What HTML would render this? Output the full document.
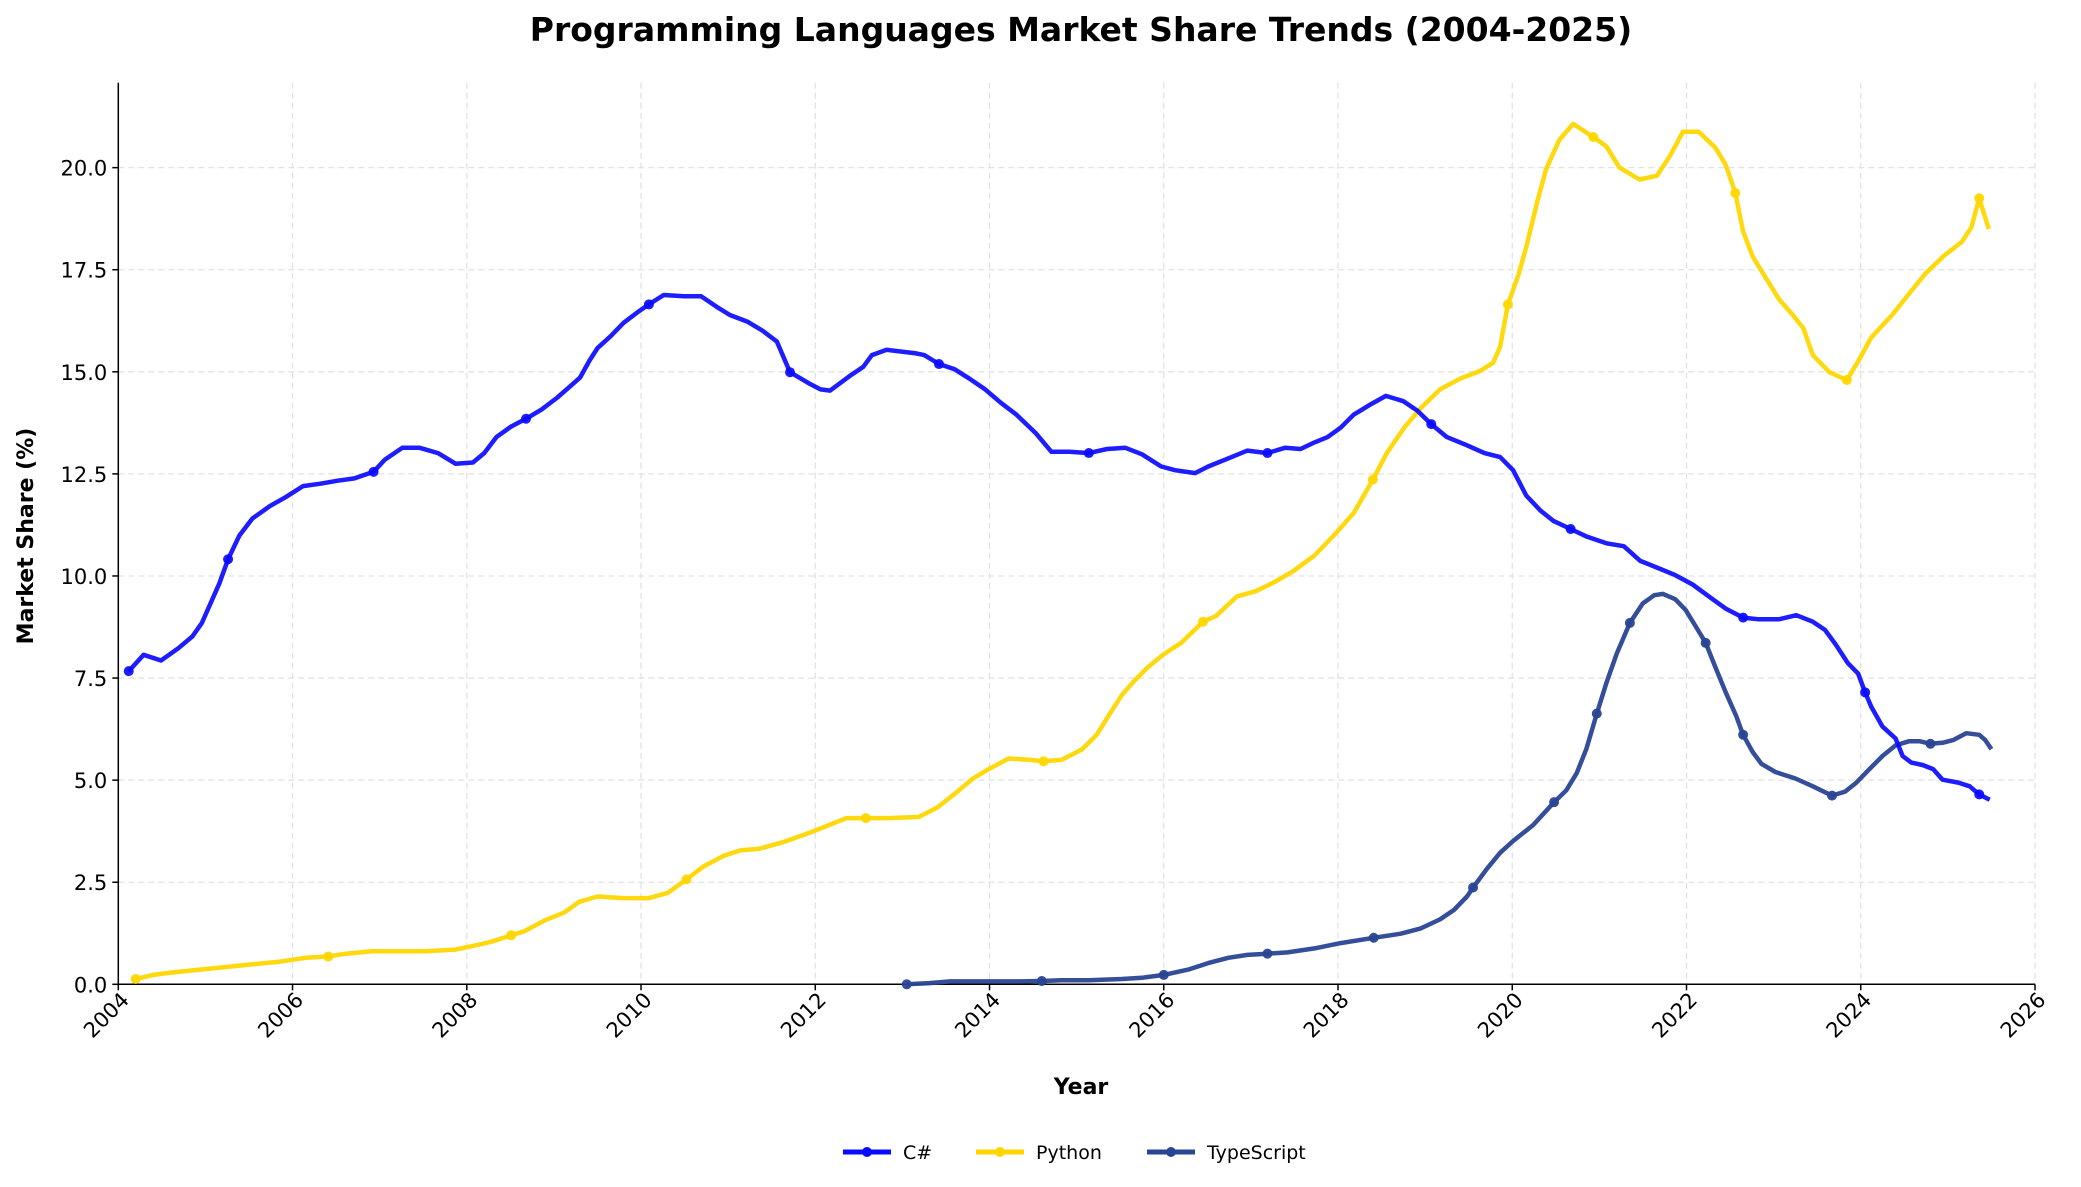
<!DOCTYPE html>
<html><head><meta charset="utf-8"><style>
html,body{margin:0;padding:0;background:#fff;}
svg text{font-family:"DejaVu Sans","Liberation Sans",sans-serif;}
</style></head><body>
<svg id="chart" width="2081" height="1182" viewBox="0 0 2081 1182" xmlns="http://www.w3.org/2000/svg">
<rect width="2081" height="1182" fill="#fff"/>
<text x="1081" y="41" text-anchor="middle" font-size="33" font-weight="bold">Programming Languages Market Share Trends (2004-2025)</text>
<g id="grid"></g><g id="axes"></g><g id="series"></g>
<text x="1081" y="1094" text-anchor="middle" font-size="22" font-weight="bold">Year</text>
<text transform="translate(33,536) rotate(-90)" text-anchor="middle" font-size="22" font-weight="bold">Market Share (%)</text>
<g id="legend"></g>
</svg>
<script>
const csYears=[2004.12,2004.29,2004.49,2004.69,2004.85,2004.96,2005.16,2005.26,2005.39,2005.54,2005.74,2005.92,2006.12,2006.32,2006.51,2006.71,2006.93,2007.06,2007.26,2007.46,2007.67,2007.87,2008.07,2008.20,2008.34,2008.51,2008.68,2008.86,2009.04,2009.20,2009.30,2009.41,2009.50,2009.65,2009.80,2009.96,2010.09,2010.26,2010.49,2010.69,2010.87,2011.02,2011.22,2011.40,2011.56,2011.71,2011.94,2012.06,2012.17,2012.39,2012.55,2012.65,2012.82,2013.16,2013.25,2013.42,2013.60,2013.77,2013.95,2014.13,2014.31,2014.53,2014.71,2014.92,2015.14,2015.35,2015.56,2015.75,2015.97,2016.13,2016.36,2016.51,2016.74,2016.96,2017.19,2017.39,2017.57,2017.73,2017.88,2018.03,2018.18,2018.38,2018.55,2018.75,2018.91,2019.07,2019.25,2019.48,2019.68,2019.86,2020.01,2020.16,2020.32,2020.47,2020.67,2020.86,2021.08,2021.28,2021.47,2021.69,2021.87,2022.07,2022.30,2022.45,2022.65,2022.83,2023.06,2023.26,2023.45,2023.59,2023.71,2023.85,2023.97,2024.05,2024.12,2024.25,2024.40,2024.48,2024.58,2024.71,2024.83,2024.94,2025.12,2025.25,2025.36,2025.48];
const csValues=[7.67,8.07,7.93,8.23,8.52,8.85,9.82,10.41,10.99,11.41,11.71,11.93,12.20,12.26,12.33,12.39,12.55,12.85,13.14,13.14,13.01,12.75,12.78,13.01,13.40,13.66,13.85,14.08,14.37,14.67,14.86,15.28,15.58,15.87,16.20,16.46,16.65,16.88,16.85,16.85,16.59,16.39,16.23,16.00,15.74,14.99,14.70,14.57,14.54,14.89,15.12,15.41,15.54,15.45,15.41,15.19,15.06,14.83,14.57,14.24,13.95,13.50,13.04,13.04,13.01,13.11,13.14,12.98,12.68,12.59,12.52,12.68,12.88,13.07,13.01,13.14,13.11,13.27,13.40,13.63,13.95,14.21,14.41,14.28,14.05,13.72,13.40,13.20,13.01,12.91,12.59,11.97,11.61,11.35,11.15,10.96,10.80,10.73,10.37,10.18,10.02,9.79,9.43,9.20,8.98,8.94,8.94,9.04,8.88,8.68,8.33,7.87,7.61,7.15,6.80,6.31,6.02,5.59,5.43,5.37,5.27,5.01,4.94,4.85,4.65,4.52];
const csMarkers=[2004.12,2005.26,2006.93,2008.68,2010.09,2011.71,2013.42,2015.14,2017.19,2019.07,2020.67,2022.65,2024.05,2025.36];
const pyYears=[2004.20,2004.40,2004.62,2004.93,2005.23,2005.54,2005.84,2006.15,2006.41,2006.61,2006.91,2007.22,2007.52,2007.87,2008.07,2008.28,2008.51,2008.66,2008.89,2009.12,2009.29,2009.50,2009.80,2010.09,2010.31,2010.52,2010.72,2010.95,2011.14,2011.36,2011.63,2011.97,2012.24,2012.36,2012.58,2012.85,2013.19,2013.40,2013.61,2013.81,2013.99,2014.22,2014.45,2014.62,2014.83,2015.06,2015.23,2015.37,2015.52,2015.67,2015.82,2015.99,2016.20,2016.45,2016.60,2016.84,2017.06,2017.27,2017.48,2017.73,2017.95,2018.18,2018.40,2018.56,2018.76,2018.95,2019.17,2019.40,2019.63,2019.78,2019.86,2019.95,2020.07,2020.16,2020.29,2020.39,2020.54,2020.70,2020.93,2021.08,2021.23,2021.46,2021.66,2021.81,2021.96,2022.14,2022.33,2022.45,2022.56,2022.65,2022.76,2022.91,2023.06,2023.22,2023.34,2023.45,2023.64,2023.84,2023.97,2024.12,2024.36,2024.58,2024.74,2024.96,2025.16,2025.27,2025.36,2025.47];
const pyValues=[0.13,0.23,0.29,0.36,0.42,0.49,0.55,0.65,0.68,0.75,0.81,0.81,0.81,0.85,0.94,1.04,1.20,1.30,1.56,1.76,2.02,2.15,2.11,2.11,2.24,2.57,2.89,3.15,3.28,3.32,3.48,3.74,3.97,4.07,4.07,4.07,4.10,4.33,4.68,5.04,5.27,5.53,5.50,5.46,5.50,5.75,6.11,6.59,7.09,7.45,7.77,8.07,8.36,8.88,9.02,9.50,9.63,9.85,10.11,10.50,10.99,11.54,12.36,13.01,13.63,14.11,14.57,14.83,15.02,15.22,15.61,16.65,17.37,18.05,19.19,19.97,20.68,21.07,20.75,20.52,20.00,19.71,19.80,20.29,20.88,20.88,20.49,20.07,19.38,18.44,17.82,17.30,16.78,16.39,16.07,15.41,14.99,14.80,15.25,15.84,16.39,16.98,17.40,17.85,18.18,18.54,19.25,18.50];
const pyMarkers=[2004.20,2006.41,2008.51,2010.52,2012.58,2014.62,2016.45,2018.40,2019.95,2020.93,2022.56,2023.84,2025.36];
const tsYears=[2013.05,2013.31,2013.55,2013.99,2014.37,2014.60,2014.83,2015.14,2015.52,2015.75,2016.00,2016.28,2016.51,2016.74,2016.96,2017.19,2017.42,2017.73,2018.03,2018.41,2018.72,2018.95,2019.17,2019.33,2019.48,2019.55,2019.71,2019.86,2020.01,2020.24,2020.48,2020.62,2020.74,2020.85,2020.97,2021.08,2021.20,2021.35,2021.50,2021.63,2021.73,2021.87,2021.99,2022.11,2022.22,2022.33,2022.45,2022.57,2022.65,2022.76,2022.86,2023.02,2023.25,2023.45,2023.67,2023.82,2023.95,2024.10,2024.25,2024.40,2024.55,2024.68,2024.80,2024.95,2025.06,2025.21,2025.36,2025.43,2025.50];
const tsValues=[0,0.03,0.07,0.07,0.07,0.08,0.10,0.10,0.13,0.16,0.23,0.36,0.52,0.65,0.72,0.75,0.78,0.88,1.01,1.14,1.24,1.37,1.59,1.82,2.15,2.37,2.83,3.22,3.51,3.90,4.46,4.75,5.17,5.76,6.63,7.38,8.10,8.85,9.33,9.53,9.56,9.43,9.17,8.75,8.36,7.77,7.15,6.57,6.11,5.69,5.40,5.20,5.04,4.85,4.62,4.72,4.94,5.27,5.59,5.85,5.95,5.95,5.89,5.92,5.98,6.15,6.11,5.98,5.76];
const tsMarkers=[2013.05,2014.60,2016.00,2017.19,2018.41,2019.55,2020.48,2020.97,2021.35,2022.22,2022.65,2023.67,2024.80];
const xTicks=[2004,2006,2008,2010,2012,2014,2016,2018,2020,2022,2024,2026];
const yTicks=[0,2.5,5,7.5,10,12.5,15,17.5,20];

const NS="http://www.w3.org/2000/svg";
const L=118.3,R=2035,T=82.7,B=984.3,X0=2004,X1=2026,Y0=0,Y1=22.08;
const xs=v=>L+(v-X0)/(X1-X0)*(R-L);
const ys=v=>B-(v-Y0)/(Y1-Y0)*(B-T);
function mk(tag,attrs,parent){const e=document.createElementNS(NS,tag);for(const k in attrs)e.setAttribute(k,attrs[k]);parent.appendChild(e);return e;}
const grid=document.getElementById('grid'),axes=document.getElementById('axes'),ser=document.getElementById('series'),leg=document.getElementById('legend');
xTicks.forEach(t=>{
  const g=mk('line',{x1:xs(t),x2:xs(t),y1:T,y2:B,stroke:'#e2e2e2','stroke-width':1.3,'stroke-dasharray':'6,4'},grid);
  
  
  const tk=mk('line',{x1:xs(t),x2:xs(t),y1:B,y2:B+6,stroke:'#000','stroke-width':1.5},axes);
  
  
  const tx=mk('text',{x:0,y:0,'font-size':21,'text-anchor':'end',transform:`translate(${xs(t)+12},${B+17}) rotate(-45)`},axes);
  tx.textContent=t;
  
  
});
yTicks.forEach(t=>{
  const g=mk('line',{x1:L,x2:R,y1:ys(t),y2:ys(t),stroke:'#e2e2e2','stroke-width':1.3,'stroke-dasharray':'6,4'},grid);
  
  
  const tk=mk('line',{x1:L-6,x2:L,y1:ys(t),y2:ys(t),stroke:'#000','stroke-width':1.5},axes);
  
  
  const tx=mk('text',{x:L-11,y:ys(t)+8,'font-size':21,'text-anchor':'end'},axes);
  tx.textContent=t.toFixed(1);
  
  
});
const ax1=mk('line',{x1:L,x2:L,y1:T,y2:B,stroke:'#000','stroke-width':1.5},axes);


const ax2=mk('line',{x1:L,x2:R,y1:B,y2:B,stroke:'#000','stroke-width':1.5},axes);



function drawSeries(name,years,vals,markers,color,op){
  const g=mk('g',{},ser);
  
  
  const pts=years.map((y,i)=>xs(y).toFixed(1)+','+ys(vals[i]).toFixed(1)).join(' ');
  const pl=mk('polyline',{points:pts,fill:'none',stroke:color,'stroke-width':4.5,'stroke-linejoin':'round','stroke-linecap':'butt',opacity:op},g);
  
  
  markers.forEach(m=>{
    let bi=0;years.forEach((y,i)=>{if(Math.abs(y-m)<Math.abs(years[bi]-m))bi=i;});
    const c=mk('circle',{cx:xs(years[bi]),cy:ys(vals[bi]),r:5,fill:color,opacity:op},g);
    
    
  });
}
drawSeries('typescript',tsYears,tsValues,tsMarkers,'#2a4594',0.95);
drawSeries('python',pyYears,pyValues,pyMarkers,'#ffd700',0.95);
drawSeries('csharp',csYears,csValues,csMarkers,'#0a0aff',0.92);

const entries=[['C#','#0a0aff',843],['Python','#ffd700',976],['TypeScript','#2a4594',1147]];
entries.forEach(([lab,col,x])=>{
  const g=mk('g',{},leg);
  
  
  mk('line',{x1:x,x2:x+48,y1:1152,y2:1152,stroke:col,'stroke-width':5},g);
  mk('circle',{cx:x+24,cy:1152,r:5,fill:col},g);
  const t=mk('text',{x:x+60,y:1159,'font-size':19},g);
  t.textContent=lab;
});
</script>
</body></html>
